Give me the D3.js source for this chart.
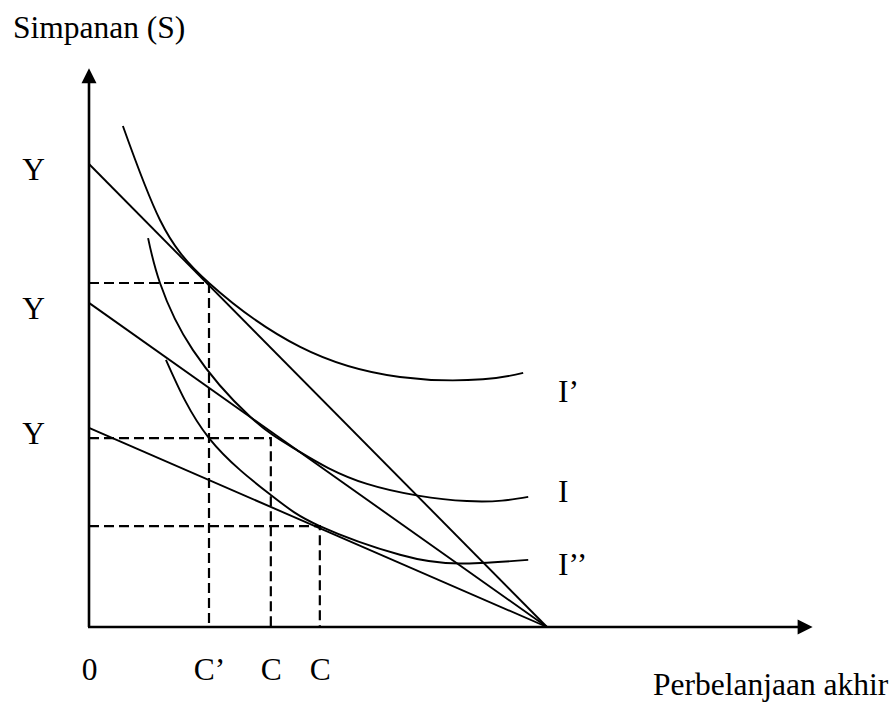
<!DOCTYPE html>
<html>
<head>
<meta charset="utf-8">
<title>Simpanan vs Perbelanjaan akhir - D3.js</title>
<script src="https://d3js.org/d3.v7.min.js"></script>
<style>
body { margin: 0; background: #fff; }
svg { display: block; }
text { font-family: "Liberation Serif", "Times New Roman", serif; font-size: 31.5px; fill: #000; }
.curve, .budget { fill: none; stroke: #000; stroke-width: 1.9px; }
.guide { fill: none; stroke: #000; stroke-width: 2.2px; stroke-dasharray: 10,5; }
.axisline { stroke: #000; stroke-width: 2.6px; }
</style>
</head>
<body>
<svg width="894" height="702"></svg>
<script>
// budget lines: savings intercept, all end at spending = 100
const budgetIntercepts = [100, 70, 43];
const budgetEnd = 100;

// indifference curves (spending, savings)
const curveI1 = [[7.4,108.2],[15.5,87.9],[26.2,74.3],[46.1,60.5],[67.9,54.0],[86.0,53.5],[94.8,54.9]];
const curveI = [[12.9,84.0],[15.5,74.3],[22.7,59.8],[35.2,45.4],[45.4,38.2],[60.7,30.9],[82.5,27.2],[95.9,28.1]];
const curveI2 = [[16.8,57.7],[26.2,40.8],[39.7,28.5],[50.4,21.8],[67.9,15.6],[81.0,13.7],[95.9,14.5]];
const curveNames = ["I\u2019", "I", "I\u2019\u2019"];
const curveLabelY = [48.6, 27.0, 11.2];

// tangency guides (spending, savings)
const guideX = [26.2, 39.7, 50.4];
const guideY = [74.3, 40.8, 21.8];

// tick labels
const yTickLabels = ["Y", "Y", "Y"];
const xTickValues = [0, 26.2, 39.7, 50.4];
const xTickLabels = ["0", "C\u2019", "C", "C"];

const svg = d3.select("svg");
const x = d3.scaleLinear().domain([0, 100]).range([89, 547]);
const y = d3.scaleLinear().domain([0, 100]).range([627, 164]);
const xMax = 158, yMax = 120.7;

// dashed guides
guideX.forEach((gx, i) => {
  svg.append("path").attr("class", "guide")
    .attr("d", d3.line()([[x(0), y(guideY[i])], [x(gx), y(guideY[i])], [x(gx), y(0)]]));
});

// budget lines
svg.selectAll(".budget")
  .data(budgetIntercepts)
  .enter()
  .append("line")
  .attr("class", "budget")
  .attr("x1", x(0)).attr("y1", d => y(d))
  .attr("x2", x(budgetEnd)).attr("y2", y(0));

// indifference curves
const line = d3.line()
  .x(d => x(d[0]))
  .y(d => y(d[1]))
  .curve(d3.curveNatural);

[curveI1, curveI, curveI2].forEach(c => {
  svg.append("path").datum(c).attr("class", "curve").attr("d", line);
});

curveNames.forEach((n, i) => {
  svg.append("text").attr("x", x(102.4)).attr("y", y(curveLabelY[i])).text(n);
});

// axes with arrows
svg.append("line").attr("class", "axisline")
  .attr("x1", x(0)).attr("y1", y(0)).attr("x2", x(0)).attr("y2", y(yMax) + 14);
svg.append("line").attr("class", "axisline")
  .attr("x1", x(0) - 1).attr("y1", y(0)).attr("x2", x(xMax) - 14).attr("y2", y(0));
svg.append("path")
  .attr("d", `M${x(0)},${y(yMax)} L${x(0) - 7.5},${y(yMax) + 15} L${x(0) + 7.5},${y(yMax) + 15} Z`)
  .attr("fill", "#000");
svg.append("path")
  .attr("d", `M${x(xMax)},${y(0)} L${x(xMax) - 15},${y(0) - 7.5} L${x(xMax) - 15},${y(0) + 7.5} Z`)
  .attr("fill", "#000");

const yAxis = d3.axisLeft(y)
  .tickValues(budgetIntercepts)
  .tickFormat((d, i) => yTickLabels[i])
  .tickSize(0)
  .tickPadding(44);
const gy = svg.append("g").attr("transform", `translate(${x(0)},0)`).call(yAxis);
gy.select(".domain").remove();
gy.selectAll("text").attr("dy", "0.5em").style("font-size", "31.5px").style("font-family", "Liberation Serif");

const xAxis = d3.axisBottom(x)
  .tickValues(xTickValues)
  .tickFormat((d, i) => xTickLabels[i])
  .tickSize(0)
  .tickPadding(31);
const gx = svg.append("g").attr("transform", `translate(0,${y(0)})`).call(xAxis);
gx.select(".domain").remove();
gx.selectAll("text").style("font-size", "31.5px").style("font-family", "Liberation Serif");

// axis titles
svg.append("text").attr("x", 13).attr("y", 38).text("Simpanan (S)");
svg.append("text").attr("x", 653).attr("y", 695).text("Perbelanjaan akhir");
</script>
</body>
</html>
